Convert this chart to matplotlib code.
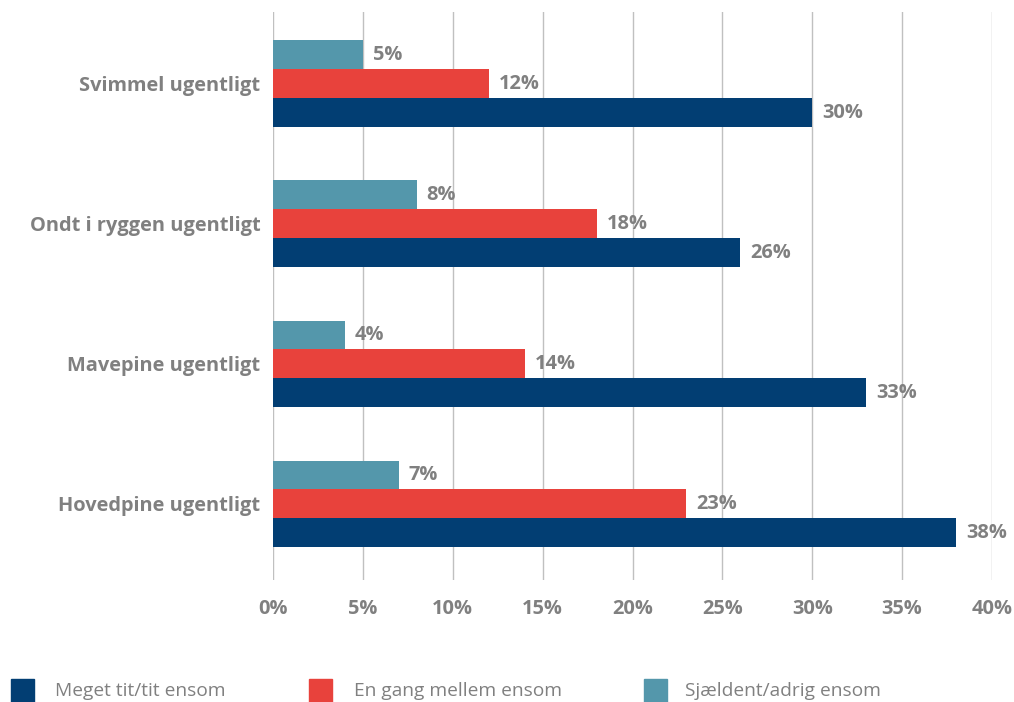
import matplotlib.pyplot as plt
from matplotlib.patches import Rectangle

# data
categories = ["Hovedpine ugentligt", "Mavepine ugentligt", "Ondt i ryggen ugentligt", "Svimmel ugentligt"]
series_names = ["Meget tit/tit ensom", "En gang mellem ensom", "Sjældent/adrig ensom"]
meget_tit = [38, 33, 26, 30]
en_gang = [23, 14, 18, 12]
sjaeldent = [7, 4, 8, 5]
xticks = [0, 5, 10, 15, 20, 25, 30, 35, 40]

colors = ["#023e73", "#e8423c", "#5497ab"]
gray = "#808080"
plt.rcParams['font.family'] = ['Open Sans', 'DejaVu Sans']

fig = plt.figure(figsize=(10.14, 7.02), dpi=100)
ax = fig.add_axes([273 / 1014, 1 - 580 / 702, (992 - 273) / 1014, (580 - 12) / 702])

h = 0.207
y = range(len(categories))
offsets = [-h, 0, h]
for vals, off, col in zip([meget_tit, en_gang, sjaeldent], offsets, colors):
    ys = [i + off for i in y]
    ax.barh(ys, vals, height=h, color=col, zorder=3)
    for yy, v in zip(ys, vals):
        ax.text(v + 0.55, yy, f"{v}%", va="center", ha="left", color=gray,
                fontsize=14.4, fontweight="bold", zorder=4)

ax.set_xlim(0, 40)
ax.set_ylim(-0.543, 3.514)
ax.set_xticks(xticks)
ax.set_xticklabels([f"{t}%" for t in xticks], color=gray, fontsize=14.4, fontweight="bold")
ax.set_yticks(list(y))
ax.set_yticklabels(categories, color=gray, fontsize=14.4, fontweight="bold")
ax.tick_params(length=0)
ax.tick_params(axis="x", pad=14)
ax.tick_params(axis="y", pad=9)
ax.grid(axis="x", color="#c0c0c0", linewidth=1, zorder=0)
for s in ax.spines.values():
    s.set_visible(False)

# legend
leg_x = [11, 309, 644]
text_x = [55, 354, 685]
for lx, tx, col, name in zip(leg_x, text_x, colors, series_names):
    fig.patches.append(Rectangle((lx / 1014, 0), 23 / 1014, 23 / 702,
                                 transform=fig.transFigure, color=col))
    fig.text(tx / 1014, 1 - 691 / 702, name, va="center", ha="left",
             color=gray, fontsize=13.8)

fig.savefig("out.png", dpi=100)
